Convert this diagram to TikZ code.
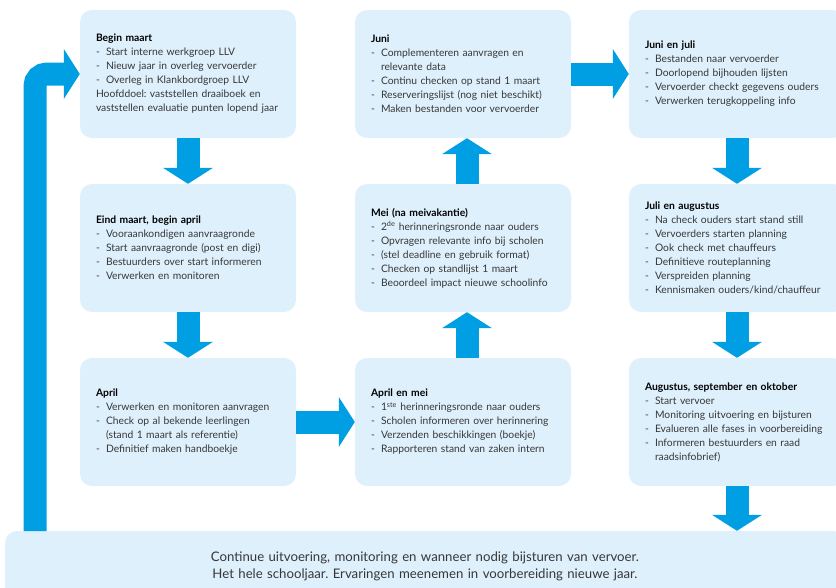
\documentclass[tikz,border=0pt]{standalone}
\usepackage{fontspec}
\setmainfont{Lato}
\usetikzlibrary{arrows.meta}

\definecolor{flowblue}{RGB}{0,159,227}
\definecolor{boxfill}{RGB}{222,240,252}
\definecolor{bodytext}{RGB}{55,55,55}

% list lines inside the boxes
\newcommand{\itm}[1]{\\\makebox[10pt][l]{-}#1}
\newcommand{\cnt}[1]{\\\hspace*{10pt}#1}
\frenchspacing

\begin{document}
\begin{tikzpicture}[x=1pt,y=-1pt,
  phase/.style={fill=boxfill,rounded corners=12pt,minimum width=216pt,minimum height=128pt,
    text width=184pt,inner xsep=16pt,align=left,text=bodytext,font=\fontsize{10.3}{14}\selectfont},
  flow/.style={draw=flowblue,line width=23pt,-{Triangle[width=50pt,length=16pt,line width=0pt]}}]
\useasboundingbox (0,0) rectangle (836,587);
\node[phase,minimum width=840pt,minimum height=70pt,text width=808pt,align=center,font=\fontsize{13.2}{17}\selectfont] (bar) at (425,566)
  {Continue uitvoering, monitoring en wanneer nodig bijsturen van vervoer.\\Het hele schooljaar. Ervaringen meenemen in voorbereiding nieuwe jaar.\\[15pt]};
\node[phase] (b1) at (188,74) {\textcolor{black}{\textbf{Begin maart}}\itm{Start interne werkgroep LLV}\itm{Nieuw jaar in overleg vervoerder}\itm{Overleg in Klankbordgroep LLV}\\Hoofddoel: vaststellen draaiboek en\\vaststellen evaluatie punten lopend jaar};
\node[phase] (b4) at (188,248) {\textcolor{black}{\textbf{Eind maart, begin april}}\itm{Vooraankondigen aanvraagronde}\itm{Start aanvraagronde (post en digi)}\itm{Bestuurders over start informeren}\itm{Verwerken en monitoren}};
\node[phase] (b7) at (188,422) {\textcolor{black}{\textbf{April}}\itm{Verwerken en monitoren aanvragen}\itm{Check op al bekende leerlingen}\cnt{(stand 1 maart als referentie)}\itm{Definitief maken handboekje}};
\node[phase] (b8) at (463,422) {\textcolor{black}{\textbf{April en mei}}\itm{1\textsuperscript{ste} herinneringsronde naar ouders}\itm{Scholen informeren over herinnering}\itm{Verzenden beschikkingen (boekje)}\itm{Rapporteren stand van zaken intern}};
\node[phase] (b5) at (463,248) {\textcolor{black}{\textbf{Mei (na meivakantie)}}\itm{2\textsuperscript{de} herinneringsronde naar ouders}\itm{Opvragen relevante info bij scholen}\itm{(stel deadline en gebruik format)}\itm{Checken op standlijst 1 maart}\itm{Beoordeel impact nieuwe schoolinfo}};
\node[phase] (b2) at (463,74) {\textcolor{black}{\textbf{Juni}}\itm{Complementeren aanvragen en}\cnt{relevante data}\itm{Continu checken op stand 1 maart}\itm{Reserveringslijst (nog niet beschikt)}\itm{Maken bestanden voor vervoerder}\\[12pt]};
\node[phase] (b3) at (737,74) {\textcolor{black}{\textbf{Juni en juli}}\itm{Bestanden naar vervoerder}\itm{Doorlopend bijhouden lijsten}\itm{Vervoerder checkt gegevens ouders}\itm{Verwerken terugkoppeling info}\\[12pt]};
\node[phase] (b6) at (737,248) {\textcolor{black}{\textbf{Juli en augustus}}\itm{Na check ouders start stand still}\itm{Vervoerders starten planning}\itm{Ook check met chauffeurs}\itm{Definitieve routeplanning}\itm{Verspreiden planning}\itm{Kennismaken ouders/kind/chauffeur}};
\node[phase] (b9) at (737,422) {\textcolor{black}{\textbf{Augustus, september en oktober}}\itm{Start vervoer}\itm{Monitoring uitvoering en bijsturen}\itm{Evalueren alle fases in voorbereiding}\itm{Informeren bestuurders en raad}\cnt{raadsinfobrief)}};
% the yearly route
\draw[flow] (b1) -- (b4);
\draw[flow] (b4) -- (b7);
\draw[flow] (b7) -- (b8);
\draw[flow] ([xshift=4pt]b8.north) -- ([xshift=4pt]b5.south);
\draw[flow] ([xshift=4pt]b5.north) -- ([xshift=4pt]b2.south);
\draw[flow] (b2) -- (b3);
\draw[flow] (b3) -- (b6);
\draw[flow] (b6) -- (b9);
\draw[flow] (b9.south) -- (b9.south |- bar.north);
% back to the start
\coordinate (loopfoot) at (35,531);
\draw[flow,rounded corners=12pt] (loopfoot) |- (b1.west);
\end{tikzpicture}
\end{document}
